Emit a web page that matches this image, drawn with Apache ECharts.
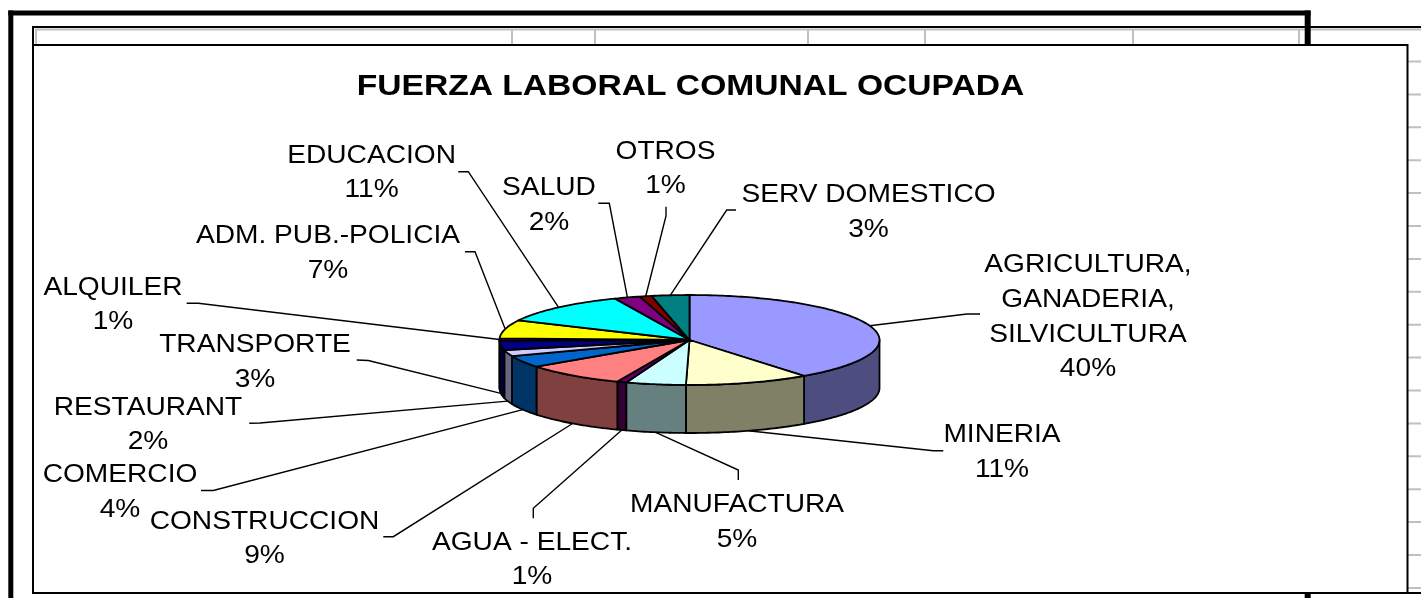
<!DOCTYPE html>
<html>
<head>
<meta charset="utf-8">
<title>Fuerza laboral comunal ocupada</title>
<script src="https://cdn.jsdelivr.net/npm/echarts@6/dist/echarts.min.js"></script>
<style>
  html, body { margin: 0; padding: 0; background: #fff; }
  #main { width: 1421px; height: 598px; }
</style>
</head>
<body>
<div id="main"></div>
<script>
// datos, en el orden de la hoja (desde las 12, sentido horario)
var sectores = ['AGRICULTURA,\nGANADERIA,\nSILVICULTURA', 'MINERIA', 'MANUFACTURA', 'AGUA - ELECT.',
  'CONSTRUCCION', 'COMERCIO', 'RESTAURANT', 'TRANSPORTE', 'ALQUILER', 'ADM. PUB.-POLICIA',
  'EDUCACION', 'SALUD', 'OTROS', 'SERV DOMESTICO'];
var porcentajes = [39.7, 10.6, 5.1, 0.8, 8.7, 4.3, 2.2, 3.4, 0.8, 6.6, 11.4, 2.2, 1.0, 3.2];
var colores = ['#9999FF', '#FFFFCC', '#CCFFFF', '#660066', '#FF8080', '#0066CC', '#CCCCFF',
  '#000080', '#FF00FF', '#FFFF00', '#00FFFF', '#800080', '#800000', '#008080'];

// geometria del pastel 3D (elipse + grosor)
var PIE = { cx: 689.5, cy: 340, rx: 190, ry: 45, depth: 48 };

// etiquetas: centro x, linea base y, extremo de la guia junto al texto (a) y codo (b)
var etiquetas = [
  { x: 1088, y: 271.7, a: [980, 314], b: [967, 314] },
  { x: 1002, y: 441.7, a: [943.3, 450.7], b: [933.3, 450.7] },
  { x: 737, y: 511.7, a: [738.3, 480], b: [738.3, 470] },
  { x: 532, y: 549.3, a: [533.3, 518.3], b: [533.3, 508.3] },
  { x: 264.5, y: 528.3, a: [383.3, 536.7], b: [393.3, 536.7] },
  { x: 120, y: 481.7, a: [201, 490.5], b: [213.3, 490.5] },
  { x: 148, y: 414.3, a: [249.3, 423.3], b: [260, 423] },
  { x: 255, y: 351.7, a: [356.7, 360], b: [368.3, 360.5] },
  { x: 113, y: 294.3, a: [186.7, 303.3], b: [198.3, 303.3] },
  { x: 328, y: 242.7, a: [465, 251.7], b: [475, 251.7] },
  { x: 371.6, y: 162.3, a: [458.3, 171.7], b: [468.3, 171.7] },
  { x: 549, y: 195, a: [598.3, 203.3], b: [609.3, 203.3] },
  { x: 665.5, y: 158.3, a: [666, 206.7], b: [666, 216] },
  { x: 868.5, y: 201.7, a: [736, 210], b: [726.7, 210] }
];

var FONT = "'Liberation Sans', Arial, sans-serif";
var total = porcentajes.reduce(function (s, v) { return s + v; }, 0);
var inicio = [];
porcentajes.reduce(function (acc, v, i) { inicio[i] = acc; return acc + v / total * 360; }, 0);

function punto(t, dy) {
  var r = t * Math.PI / 180;
  return [PIE.cx + PIE.rx * Math.sin(r), PIE.cy - PIE.ry * Math.cos(r) + dy];
}

function arco(a, b, dy) {
  var pts = [];
  var n = Math.max(2, Math.ceil(Math.abs(b - a)));
  for (var k = 0; k <= n; k++) pts.push(punto(a + (b - a) * k / n, dy));
  return pts;
}

function oscuro(hex) {
  var n = parseInt(hex.slice(1), 16);
  var r = Math.round((n >> 16 & 255) / 2), g = Math.round((n >> 8 & 255) / 2), b = Math.round((n & 255) / 2);
  return 'rgb(' + r + ',' + g + ',' + b + ')';
}

function renderItem(params, api) {
  var i = params.dataIndex;
  var s = inicio[i];
  var e = s + api.value(0) / total * 360;
  var hijos = [];

  // pared lateral visible (mitad delantera)
  var a = Math.max(s, 90), b = Math.min(e, 270);
  if (b > a) {
    hijos.push({
      type: 'polygon', z2: 1,
      shape: { points: arco(a, b, 0).concat(arco(b, a, PIE.depth)) },
      style: { fill: oscuro(colores[i]), stroke: '#000', lineWidth: 1.8, lineJoin: 'round' }
    });
  }
  // cara superior
  hijos.push({
    type: 'polygon', z2: 2,
    shape: { points: [[PIE.cx, PIE.cy]].concat(arco(s, e, 0)) },
    style: { fill: colores[i], stroke: '#000', lineWidth: 1.8, lineJoin: 'round' }
  });

  // linea guia hasta el borde del sector
  var m = (s + e) / 2;
  var p = punto(m, (m > 90 && m < 270) ? PIE.depth : 0);
  var L = etiquetas[i];
  hijos.push({
    type: 'polyline', z2: 3,
    shape: { points: [L.a, L.b, p] },
    style: { stroke: '#000', lineWidth: 1.4, fill: null }
  });

  var pct = Math.round(api.value(0) / total * 100);
  hijos.push({
    type: 'text', z2: 4, x: L.x, y: L.y - 23.8, scaleX: 1.125,
    style: {
      text: sectores[i] + '\n' + pct + '%', x: 0, y: 0,
      fill: '#000', fontSize: 25, fontFamily: FONT, lineHeight: 34.7,
      align: 'center', verticalAlign: 'top'
    }
  });
  return { type: 'group', children: hijos };
}

// marco de la hoja de calculo
var GRIS = '#c0c0c0';
var decor = [];
var columnas = [36, 512, 595, 808, 925, 1133, 1299];
columnas.forEach(function (x) {
  decor.push({ type: 'line', z: 0, shape: { x1: x, y1: 29, x2: x, y2: 593 }, style: { stroke: GRIS, lineWidth: 2 } });
});
decor.push({ type: 'line', z: 0, shape: { x1: 35, y1: 29.5, x2: 1421, y2: 29.5 }, style: { stroke: GRIS, lineWidth: 2 } });
for (var k = 0; k <= 16; k++) {
  var yy = 61.5 + 32.9 * k;
  decor.push({ type: 'line', z: 0, shape: { x1: 35, y1: yy, x2: 1421, y2: yy }, style: { stroke: GRIS, lineWidth: 2 } });
}
decor.push({ type: 'line', z: 0, shape: { x1: 32, y1: 27, x2: 1421, y2: 27 }, style: { stroke: '#000', lineWidth: 2 } });
decor.push({ type: 'line', z: 0, shape: { x1: 33, y1: 26, x2: 33, y2: 594 }, style: { stroke: '#000', lineWidth: 2 } });
decor.push({ type: 'line', z: 0, shape: { x1: 33, y1: 593, x2: 1421, y2: 593 }, style: { stroke: '#000', lineWidth: 2 } });
// marco grueso
decor.push({ type: 'line', z: 0, shape: { x1: 10.8, y1: 10.5, x2: 10.8, y2: 598 }, style: { stroke: '#000', lineWidth: 5 } });
decor.push({ type: 'line', z: 0, shape: { x1: 8.3, y1: 13, x2: 1310.5, y2: 13 }, style: { stroke: '#000', lineWidth: 5 } });
decor.push({ type: 'line', z: 0, shape: { x1: 1307.7, y1: 10.5, x2: 1307.7, y2: 598 }, style: { stroke: '#000', lineWidth: 6 } });
// area del grafico
decor.push({ type: 'rect', z: 1, shape: { x: 33, y: 45, width: 1374.5, height: 548 }, style: { fill: '#fff', stroke: '#000', lineWidth: 2 } });
// titulo
decor.push({
  type: 'text', z: 2, x: 690.5, y: 87, scaleX: 1.12,
  style: {
    text: 'FUERZA LABORAL COMUNAL OCUPADA', x: 0, y: 0, fill: '#000',
    fontSize: 30, fontWeight: 'bold', fontFamily: FONT, align: 'center', verticalAlign: 'middle'
  }
});

var chart = echarts.init(document.getElementById('main'));
chart.setOption({
  animation: false,
  backgroundColor: '#fff',
  graphic: { elements: decor },
  series: [{
    type: 'custom',
    coordinateSystem: 'none',
    z: 5,
    silent: true,
    renderItem: renderItem,
    data: porcentajes.map(function (v, i) { return { name: sectores[i], value: [v] }; })
  }]
});
</script>
</body>
</html>
